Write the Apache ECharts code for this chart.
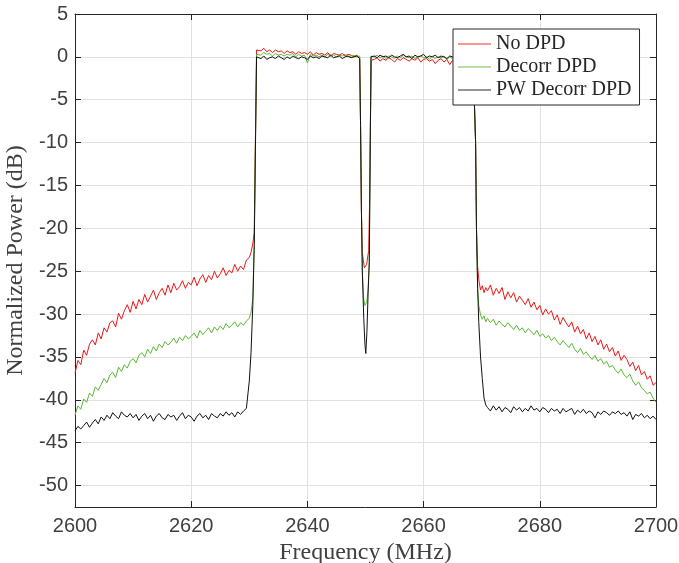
<!DOCTYPE html>
<html>
<head>
<meta charset="utf-8">
<script src="https://cdn.jsdelivr.net/npm/echarts@6/dist/echarts.min.js"></script>
<style>
  html, body { margin: 0; padding: 0; background: #fff; }
  #chart { width: 679px; height: 563px; }
</style>
</head>
<body>
<div id="chart"></div>
<script>
// spectrum (dB). uniform parts use 0.5 MHz steps
var seriesNames = ['No DPD', 'Decorr DPD', 'PW Decorr DPD'];
var yTicks = [5, 0, -5, -10, -15, -20, -25, -30, -35, -40, -45, -50];

// 2600 .. 2630
var noDpdLow = [-36.9, -35.4, -35.9, -34.2, -34.8, -33.5, -33.0, -33.6, -32.2, -32.9,
    -31.6, -32.1, -31.0, -30.8, -31.5, -29.9, -30.6, -29.6, -28.9, -29.8,
    -28.5, -29.4, -28.3, -28.9, -27.7, -28.6, -27.9, -27.2, -28.3, -27.5,
    -27.0, -27.8, -26.6, -27.5, -26.4, -27.2, -26.8, -26.1, -27.0, -26.3,
    -26.6, -25.7, -26.7, -25.9, -25.4, -26.3, -25.5, -26.0, -25.0, -25.8,
    -25.3, -24.6, -25.5, -24.9, -25.2, -24.2, -25.0, -24.4, -24.8, -23.7, -23.4];
var decorrLow = [-41.8, -40.7, -41.1, -39.9, -40.3, -39.2, -39.6, -38.5, -38.9, -38.2,
    -37.5, -38.0, -37.1, -36.8, -37.4, -36.2, -36.7, -35.9, -36.3, -35.5,
    -35.2, -35.7, -34.8, -34.5, -35.0, -34.1, -34.6, -33.8, -34.3, -33.5,
    -33.9, -33.2, -33.6, -33.3, -32.8, -33.4, -32.7, -33.1, -32.5, -32.9,
    -32.6, -32.2, -32.8, -31.9, -32.4, -32.0, -31.6, -32.2, -31.5, -31.9,
    -31.4, -31.8, -31.1, -31.6, -31.3, -30.9, -31.5, -31.0, -31.3, -30.8, -30.5];
var pwLow = [-43.6, -43.1, -43.4, -43.0, -42.6, -43.2, -42.7, -42.3, -42.8, -42.0,
    -42.4, -41.8, -42.2, -41.5, -41.9, -42.2, -41.4, -41.8, -42.0, -41.6,
    -42.1, -41.7, -42.4, -41.9, -41.6, -42.2, -41.8, -42.5, -41.9, -41.6,
    -42.1, -42.3, -41.7, -42.0, -41.8, -42.4, -41.9, -41.5, -42.2, -41.8,
    -42.0, -42.5, -41.9, -41.6, -42.1, -41.8, -42.3, -41.6, -41.9, -42.1,
    -41.6, -41.9, -41.4, -41.8, -41.5, -42.0, -41.4, -41.7, -41.3, -41.0, -37.8];

// lower band edge
var noDpdEdgeL = [[2630.3, -22.8], [2630.6, -21.8], [2630.85, -20.5], [2631.05, -10], [2631.25, 0.8]];
var decorrEdgeL = [[2630.3, -29.8], [2630.6, -28.2], [2630.85, -22], [2631.05, -10], [2631.25, 0.3]];
var pwEdgeL = [[2630.3, -34.5], [2630.6, -29], [2630.85, -22], [2631.05, -11], [2631.25, 0.0]];

// 2631.5 .. 2649
var noDpdBand1 = [0.9, 0.7, 1.0, 0.6, 0.8, 0.5, 0.8, 0.6, 0.7, 0.4,
    0.7, 0.5, 0.6, 0.3, 0.6, 0.4, 0.5, 0.3, 0.6, 0.2,
    0.5, 0.3, 0.4, 0.2, 0.5, 0.1, 0.4, 0.3, 0.2, 0.4,
    0.1, 0.3, 0.2, 0.0, 0.2, -0.1];
var decorrBand1 = [0.4, 0.2, 0.5, 0.3, 0.4, 0.1, 0.4, 0.2, 0.3, 0.1,
    0.3, 0.2, 0.4, 0.0, 0.3, 0.1, 0.2, -0.7, 0.3, 0.1,
    0.2, 0.0, 0.2, 0.0, 0.3, 0.1, 0.2, 0.0, 0.2, 0.1,
    0.3, 0.0, 0.1, 0.2, 0.0, 0.1];
var pwBand1 = [0.0, -0.2, 0.1, -0.3, -0.1, 0.0, -0.2, 0.1, -0.1, -0.3,
    0.0, -0.2, 0.1, -0.1, -0.2, 0.0, -0.1, -0.3, 0.1, -0.1,
    0.0, -0.2, 0.1, 0.0, -0.1, 0.2, -0.1, 0.0, 0.1, -0.2,
    0.0, 0.1, -0.1, 0.0, 0.1, -0.2];

// notch around 2650
var noDpdNotch = [[2649.15, -8], [2649.3, -18], [2649.45, -22.8], [2649.6, -23.6], [2649.8, -24.6], [2650.0, -24.8],
    [2650.2, -24.2], [2650.4, -23.2], [2650.55, -22.6], [2650.7, -17], [2650.85, -7], [2651.0, -0.4]];
var decorrNotch = [[2649.15, -8], [2649.3, -18], [2649.45, -25], [2649.7, -28.3], [2649.9, -29.0], [2650.05, -29.2],
    [2650.25, -28.5], [2650.45, -27], [2650.65, -24], [2650.8, -12], [2650.95, 0.1]];
var pwNotch = [[2649.15, -8], [2649.3, -18], [2649.45, -25], [2649.7, -30.5], [2649.9, -33.5], [2650.05, -34.6],
    [2650.25, -32], [2650.45, -27.5], [2650.65, -24], [2650.8, -12], [2650.95, 0]];

// 2651.5 .. 2668.5
var noDpdBand2 = [-0.3, -0.1, -0.5, -0.2, -0.4, -0.1, -0.3, -0.6, -0.2, -0.4,
    -0.1, -0.3, -0.5, -0.2, -0.4, -0.1, -0.6, -0.3, -0.2, -0.5,
    -0.3, -0.8, -0.4, -0.2, -0.6, -0.3, -0.9, -0.4, -0.6, -0.3,
    -0.5, -0.7, -0.4, -0.6, -0.3];
var decorrBand2 = [0.0, 0.2, -0.1, 0.1, -0.2, 0.1, 0.0, -0.2, 0.1, -0.1,
    0.2, 0.0, -0.1, 0.1, -0.2, 0.0, 0.1, -0.1, 0.0, -0.3,
    0.1, -0.2, 0.0, -0.1, 0.1, -0.3, 0.0, -0.2, -0.1, 0.0,
    -0.2, 0.1, -0.1, -0.3, 0.0];
var pwBand2 = [0.1, -0.1, 0.2, 0.0, 0.1, -0.1, 0.2, 0.0, -0.1, 0.1,
    0.3, 0.0, 0.1, -0.2, 0.2, 0.0, 0.1, 0.3, -0.1, 0.1,
    0.0, 0.2, -0.1, 0.1, 0.0, -0.2, 0.1, 0.0, 0.2, -0.1,
    0.0, 0.1, -0.1, 0.0, 0.1];

// upper band edge
var noDpdEdgeR = [[2668.8, -0.4], [2668.95, -10], [2669.1, -20], [2669.3, -24.5], [2669.5, -26.0], [2669.8, -27.2], [2670.1, -26.7], [2670.4, -27.5], [2670.7, -26.9]];
var decorrEdgeR = [[2668.8, 0.0], [2668.95, -10], [2669.1, -20], [2669.3, -27], [2669.5, -29], [2669.8, -30.1], [2670.1, -30.6], [2670.4, -30.2], [2670.7, -30.9]];
var pwEdgeR = [[2668.8, -0.1], [2668.95, -10], [2669.1, -20], [2669.3, -27], [2669.5, -31], [2669.8, -35], [2670.1, -37.5], [2670.4, -39.8], [2670.7, -40.6]];

// 2671 .. 2700
var noDpdHigh = [-27.3, -26.6, -27.8, -27.0, -27.6, -26.9, -28.3, -27.4, -28.1, -27.5,
    -28.6, -27.9, -28.4, -28.9, -28.2, -29.2, -28.6, -29.5, -29.0, -30.1,
    -29.4, -30.0, -29.6, -30.7, -30.1, -31.2, -30.4, -31.0, -31.5, -30.9,
    -32.1, -31.4, -32.3, -31.8, -32.9, -32.2, -33.2, -32.6, -33.6, -33.0,
    -34.1, -33.5, -34.4, -33.9, -34.9, -34.3, -35.4, -34.8, -35.3, -36.1,
    -35.6, -36.6, -36.0, -37.1, -36.7, -37.6, -37.2, -38.3, -38.0];
var decorrHigh = [-30.5, -31.0, -30.6, -31.3, -30.8, -31.2, -31.5, -31.0, -31.4, -31.8,
    -31.3, -31.9, -31.6, -32.2, -31.7, -32.0, -32.4, -31.9, -32.6, -32.3,
    -32.8, -32.5, -33.1, -32.7, -33.2, -33.6, -33.1, -33.5, -33.9, -33.4,
    -34.1, -34.5, -34.0, -34.7, -34.4, -34.9, -35.3, -34.8, -35.5, -35.2,
    -35.8, -35.5, -36.2, -36.0, -36.5, -36.9, -36.4, -37.1, -37.4, -37.0,
    -37.8, -38.3, -37.9, -38.6, -38.9, -39.3, -39.1, -39.8, -40.3];
var pwHigh = [-40.9, -41.3, -40.7, -41.2, -40.8, -41.4, -40.9, -41.1, -41.5, -40.8,
    -41.2, -40.9, -41.4, -41.0, -41.3, -40.7, -41.2, -41.0, -41.4, -40.9,
    -41.1, -41.5, -41.0, -41.3, -41.1, -41.6, -41.0, -41.4, -41.2, -41.0,
    -41.7, -41.2, -41.5, -41.1, -41.6, -41.3, -41.5, -42.1, -41.4, -41.7,
    -41.3, -41.5, -41.8, -41.4, -41.6, -41.3, -41.7, -41.5, -41.9, -41.4,
    -42.3, -41.7, -41.9, -41.6, -42.1, -41.8, -42.2, -41.9, -42.3];

function seg(start, values) {
    return values.map(function (v, i) { return [start + i * 0.5, v]; });
}

function build(low, edgeL, band1, notch, band2, edgeR, high) {
    return [].concat(seg(2600, low), edgeL, seg(2631.5, band1), notch,
        seg(2651.5, band2), edgeR, seg(2671, high));
}

var noDpd = build(noDpdLow, noDpdEdgeL, noDpdBand1, noDpdNotch, noDpdBand2, noDpdEdgeR, noDpdHigh);
var decorr = build(decorrLow, decorrEdgeL, decorrBand1, decorrNotch, decorrBand2, decorrEdgeR, decorrHigh);
var pwDecorr = build(pwLow, pwEdgeL, pwBand1, pwNotch, pwBand2, pwEdgeR, pwHigh);

var axisColor = '#262626';
var labelFont = { fontFamily: 'Liberation Sans', fontSize: 20, color: '#404040' };
var nameFont = { fontFamily: 'Liberation Serif', fontSize: 24, color: '#404040' };
var plain = function (v) { return String(v); };

function lineSeries(name, data, color) {
    return {
        name: name,
        type: 'line',
        data: data,
        showSymbol: false,
        symbol: 'none',
        clip: true,
        lineStyle: { width: 1, color: color },
        itemStyle: { color: color },
        emphasis: { disabled: true }
    };
}

var chart = echarts.init(document.getElementById('chart'), null, { renderer: 'canvas' });
var option = {
    backgroundColor: '#fff',
    animation: false,
    grid: { left: 75, right: 23, top: 14, bottom: 56, containLabel: false, outerBoundsMode: 'none' },
    legend: {
        orient: 'vertical',
        left: 453,
        top: 29,
        data: seriesNames,
        icon: 'rect',
        itemWidth: 33,
        itemHeight: 1.5,
        itemGap: 3,
        padding: [5, 8, 5, 5],
        borderColor: axisColor,
        borderWidth: 1,
        backgroundColor: '#fff',
        itemStyle: { opacity: 0.6 },
        textStyle: { fontFamily: 'Liberation Serif', fontSize: 20, color: '#262626', lineHeight: 20 }
    },
    xAxis: [{
        type: 'value',
        min: 2600,
        max: 2700,
        interval: 20,
        name: 'Frequency (MHz)',
        nameLocation: 'middle',
        nameGap: 30,
        nameTextStyle: nameFont,
        axisLine: { onZero: false, lineStyle: { color: axisColor, width: 1 } },
        axisTick: { inside: true, length: 6, lineStyle: { color: axisColor } },
        axisLabel: Object.assign({ margin: 9, formatter: plain }, labelFont),
        splitLine: { show: true, lineStyle: { color: '#e0e0e0', width: 1 } }
    }, {
        type: 'value',
        position: 'top',
        min: 2600,
        max: 2700,
        interval: 20,
        axisLine: { onZero: false, lineStyle: { color: axisColor, width: 1 } },
        axisTick: { inside: true, length: 6, lineStyle: { color: axisColor } },
        axisLabel: { show: false },
        splitLine: { show: false }
    }],
    yAxis: [{
        type: 'value',
        min: -52.5,
        max: 5,
        name: 'Normalized Power (dB)',
        nameLocation: 'middle',
        nameGap: 40,
        nameTextStyle: nameFont,
        axisLine: { show: true, onZero: false, lineStyle: { color: axisColor, width: 1 } },
        axisTick: { show: true, inside: true, length: 6, customValues: yTicks, lineStyle: { color: axisColor } },
        axisLabel: Object.assign({ margin: 7, customValues: yTicks, formatter: plain }, labelFont),
        splitLine: { show: true, lineStyle: { color: '#e0e0e0', width: 1 } }
    }, {
        type: 'value',
        position: 'right',
        min: -52.5,
        max: 5,
        axisLine: { show: true, onZero: false, lineStyle: { color: axisColor, width: 1 } },
        axisTick: { show: true, inside: true, length: 6, customValues: yTicks, lineStyle: { color: axisColor } },
        axisLabel: { show: false },
        splitLine: { show: false }
    }],
    series: [
        lineSeries(seriesNames[0], noDpd, '#f01515'),
        lineSeries(seriesNames[1], decorr, '#5cb833'),
        lineSeries(seriesNames[2], pwDecorr, '#111111')
    ]
};
chart.setOption(option);
</script>
</body>
</html>
